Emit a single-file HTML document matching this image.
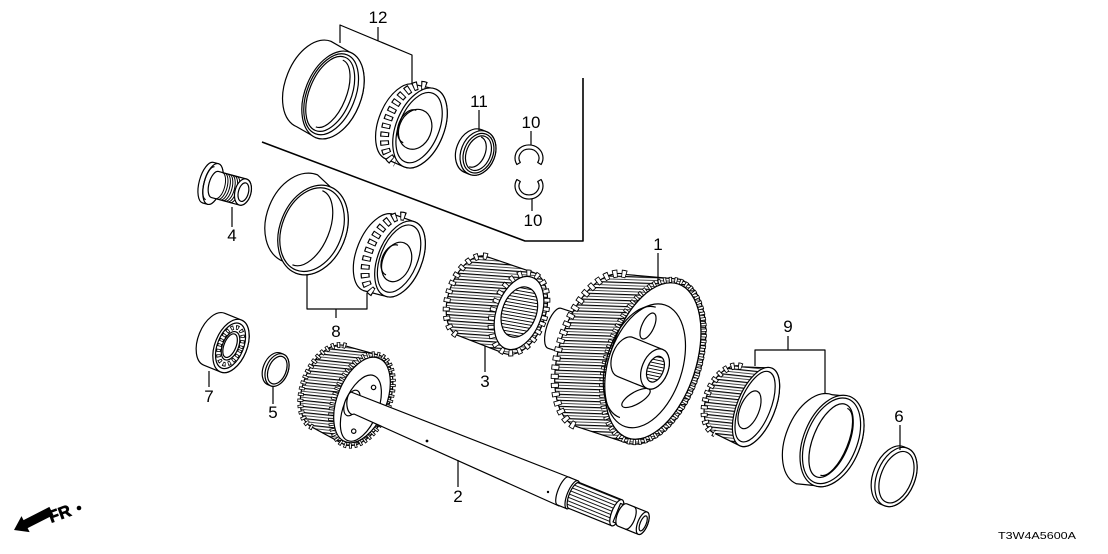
<!DOCTYPE html>
<html><head><meta charset="utf-8"><title>Diagram</title>
<style>
html,body{margin:0;padding:0;background:#fff;width:1108px;height:554px;overflow:hidden}
svg{display:block}
text{font-family:"Liberation Sans",Arial,sans-serif}
</style></head><body>
<svg width="1108" height="554" viewBox="0 0 1108 554" xmlns="http://www.w3.org/2000/svg">
<defs>
<pattern id="st" patternUnits="userSpaceOnUse" width="12" height="6" patternTransform="rotate(-16)">
<rect width="12" height="6" fill="#fff"/><rect width="12" height="1.2" fill="#000"/><rect y="3.2" width="12" height="0.7" fill="#000"/>
</pattern>
<pattern id="sp" patternUnits="userSpaceOnUse" width="6" height="3.2" patternTransform="rotate(-10)">
<rect width="6" height="3.2" fill="#fff"/><rect width="6" height="0.9" fill="#000"/>
</pattern>
<pattern id="ax" patternUnits="userSpaceOnUse" width="6" height="3.4">
<rect width="6" height="3.4" fill="#fff"/><rect width="6" height="0.9" fill="#000"/>
</pattern>
</defs>
<g fill="#fff" stroke="#000" stroke-width="1.2" stroke-linejoin="round">

<!-- separator -->
<polyline points="262,142 525,241 583,241 583,78" fill="none" stroke-width="1.6"/>

<!-- cup 12 -->
<g transform="translate(333,95) rotate(22)">
<path d="M0,-46 L-22,-49 A28,46 0 0,0 -22,43 L0,46 A28,46 0 0,0 0,-46Z"/>
<ellipse rx="28" ry="46"/>
<ellipse cx="-2" rx="24" ry="42.5" fill="none"/>
<ellipse cx="-3" rx="21" ry="39.5" fill="none"/>
<path d="M-4,-36 A17,36 0 0,1 -4,36" fill="none"/>
</g>

<!-- cone 12 -->
<g transform="translate(420,128) rotate(22)">
<path d="M0,-42 L-20,-38.5 A22,40 0 0,0 -20,41.5 L0,42 A24,42 0 0,0 0,-42Z"/>
<path d="M-10,-41 A23,41 0 0,0 -10,41" fill="none" stroke-width="9" stroke-dasharray="5 3.5"/>
<path d="M-10,-41 A23,41 0 0,0 -10,41" fill="none" stroke="#fff" stroke-width="6.6" stroke-dasharray="3 5.5" stroke-dashoffset="-1"/>
<ellipse rx="24" ry="42"/>
<ellipse cx="-1" rx="20" ry="37" fill="none"/>
<ellipse cx="-4" cy="3" rx="16" ry="20.5"/>
<path d="M-10,-15 A11,17 0 0,0 -10,20" fill="none"/>
</g>

<!-- ring 11 -->
<g transform="translate(478,153) rotate(22)">
<path d="M0,-23 L-5,-23 A17,23 0 0,0 -5,23 L0,23 A17,23 0 0,0 0,-23Z"/>
<ellipse rx="17" ry="23"/>
<ellipse cx="0.5" rx="14.5" ry="20.5" fill="none"/>
<ellipse cx="0.5" rx="12" ry="18"/>
<path d="M-3,-16 A10,16 0 0,1 -3,16" fill="none"/>
</g>

<!-- clips 10 -->
<path d="M516.9,164.5 A14,13 0 1,1 541.1,164.5 L537.7,162.5 A10,9 0 1,0 520.3,162.5 Z"/>
<path d="M516.9,179.5 A14,13 0 1,0 541.1,179.5 L537.7,181.5 A10,9 0 1,1 520.3,181.5 Z"/>

<!-- plug 4 -->
<g transform="translate(213,184) rotate(15)">
<path d="M0,-21 L-5,-21 A9,21 0 0,0 -5,21 L0,21 A9,21 0 0,0 0,-21Z"/>
<ellipse rx="9" ry="21"/>
<path d="M-3,-17 A6,17 0 0,0 -3,17" fill="none"/>
<path d="M2,-13.5 L31,-13.5 A8,13.5 0 0,1 31,13.5 L2,13.5 A6,13.5 0 0,1 2,-13.5Z"/>
<g fill="none" stroke-width="1">
<path d="M6,-13.5 A6,13.5 0 0,1 6,13.5"/>
<path d="M8.5,-13.5 A6,13.5 0 0,1 8.5,13.5"/>
<path d="M11,-13.5 A6,13.5 0 0,1 11,13.5"/>
<path d="M13.5,-13.5 A6,13.5 0 0,1 13.5,13.5"/>
<path d="M16,-13.5 A6,13.5 0 0,1 16,13.5"/>
<path d="M18.5,-13.5 A6,13.5 0 0,1 18.5,13.5"/>
<path d="M21,-13.5 A6,13.5 0 0,1 21,13.5"/>
</g>
<ellipse cx="31" rx="8" ry="13.5"/>
<ellipse cx="31.5" rx="5" ry="9.5"/>
</g>

<!-- cup 8 -->
<g transform="translate(313,230) rotate(22)">
<path d="M0,-46.5 L-16.5,-52.8 A33,46.5 0 0,0 -16.5,40.2 L0,46.5 A33,46.5 0 0,0 0,-46.5Z"/>
<ellipse rx="33" ry="46.5"/>
<ellipse cx="-1" rx="30" ry="43.5" fill="none"/>
<path d="M-6,-40 A22,40 0 0,1 -6,40" fill="none"/>
</g>

<!-- cone 8 -->
<g transform="translate(400,259) rotate(22)">
<path d="M0,-40 L-22,-39 A22,41 0 0,0 -22,43 L0,40 A22,40 0 0,0 0,-40Z"/>
<path d="M-11,-41 A21,41 0 0,0 -11,41" fill="none" stroke-width="9" stroke-dasharray="5 3.5"/>
<path d="M-11,-41 A21,41 0 0,0 -11,41" fill="none" stroke="#fff" stroke-width="6.6" stroke-dasharray="3 5.5" stroke-dashoffset="-1"/>
<ellipse rx="22" ry="40"/>
<ellipse cx="-1" rx="18.5" ry="35.5" fill="none"/>
<ellipse cx="-2" cy="4" rx="14" ry="20.5"/>
<path d="M-7,-12 A10,16 0 0,0 -7,20" fill="none"/>
</g>

<!-- bearing 7 -->
<g transform="translate(231,346) rotate(22)">
<path d="M0,-28 L-18,-28 A16,28 0 0,0 -18,28 L0,28 A16,28 0 0,0 0,-28Z"/>
<ellipse rx="16" ry="28"/>
<ellipse cx="-0.5" rx="13" ry="24" fill="none"/>
<ellipse cx="-0.5" rx="10.5" ry="19.5" fill="none" stroke-width="4.5" stroke-dasharray="3 2.4"/>
<ellipse cx="-0.5" rx="10.5" ry="19.5" fill="none" stroke="#fff" stroke-width="2.7" stroke-dasharray="1.4 4" stroke-dashoffset="-0.8"/>
<ellipse cx="-0.5" rx="8" ry="15"/>
<ellipse cx="-1" rx="6" ry="12.5" fill="none"/>
</g>

<!-- ring 5 -->
<g transform="translate(277,370) rotate(22)">
<path d="M0,-17 L-3,-17 A11,17 0 0,0 -3,17 L0,17 A11,17 0 0,0 0,-17Z"/>
<ellipse rx="11" ry="17"/>
<ellipse cx="0.3" rx="8.8" ry="14.5"/>
</g>

<!-- gear on shaft 2 -->
<g transform="translate(362,400) rotate(22)">
<path d="M0,-48 L-35,-44 A26,44 0 0,0 -35,44 L0,48 A27,48 0 0,0 0,-48Z" fill="url(#st)"/>
<path d="M-35,-44 A26,44 0 0,0 -35,44" fill="none" stroke-width="6" stroke-dasharray="3.2 2.8"/>
<path d="M-35,-44 A26,44 0 0,0 -35,44" fill="none" stroke="#fff" stroke-width="4.4" stroke-dasharray="1.6 4.4" stroke-dashoffset="-0.8"/>
<ellipse rx="27" ry="48" fill="none" stroke-width="6" stroke-dasharray="2.8 2.4"/>
<ellipse rx="27" ry="48" fill="none" stroke="#fff" stroke-width="4.4" stroke-dasharray="1.2 4" stroke-dashoffset="-0.8"/>
<ellipse rx="24.5" ry="45"/>
<ellipse cx="2" cy="8" rx="17" ry="35"/>
<circle cx="6" cy="-16" r="2.2"/>
<circle cx="4" cy="32" r="2.2"/>
</g>

<!-- shaft 2 -->
<ellipse cx="352" cy="403" rx="7" ry="13.5" transform="rotate(22 352 403)"/>
<path d="M351,392 L571,478 L559,506 L354,414 A5.5,11 0 0,1 351,392Z"/>
<circle cx="427" cy="441" r="1.4" fill="#000" stroke="none"/>
<circle cx="548" cy="492" r="1.2" fill="#000" stroke="none"/>
<g transform="translate(563,491) rotate(22)">
<path d="M0,-15 L10,-15 A5,15 0 0,1 10,15 L0,15 A5,15 0 0,1 0,-15Z"/>
<ellipse cx="10" rx="5" ry="15"/>
<path d="M12,-14 L58,-14 A5,14 0 0,1 58,14 L12,14 A5,14 0 0,1 12,-14Z" fill="url(#ax)"/>
<ellipse cx="58" rx="5" ry="14"/>
<path d="M58,-10 L64,-10 L64,10 L58,10Z"/>
<path d="M64,-12 L86,-12 A5,12 0 0,1 86,12 L64,12 A5,12 0 0,1 64,-12Z"/>
<path d="M72,-12 A5,12 0 0,1 72,12" fill="none"/>
<ellipse cx="86" rx="5" ry="12"/>
<ellipse cx="86.5" rx="3" ry="8"/>
</g>

<!-- gear 1 -->
<g transform="translate(566,332) rotate(18)">
<path d="M0,-21 L-12,-21 A8,21 0 0,0 -12,21 L0,21Z"/>
</g>
<g transform="translate(653,361) rotate(18)">
<path d="M0,-86 L-52,-74 A42,80 0 0,0 -52,86 L0,86 A48,86 0 0,0 0,-86Z" fill="url(#st)"/>
<path d="M-52,-74 A42,80 0 0,0 -52,86" fill="none" stroke-width="8" stroke-dasharray="5 4"/>
<path d="M-52,-74 A42,80 0 0,0 -52,86" fill="none" stroke="#fff" stroke-width="6.2" stroke-dasharray="3.4 5.6" stroke-dashoffset="-0.8"/>
<ellipse rx="46" ry="84" fill="none" stroke-width="6" stroke-dasharray="3.2 2.4"/>
<ellipse rx="46" ry="84" fill="none" stroke="#fff" stroke-width="4.4" stroke-dasharray="1.6 4" stroke-dashoffset="-0.8"/>
<ellipse rx="43" ry="81"/>
<ellipse cx="-6" cy="7" rx="37" ry="64"/>
<path d="M-14,-52 A31,58 0 0,0 -14,64" fill="none"/>
</g>
<ellipse cx="648" cy="326" rx="6" ry="14" transform="rotate(25 648 326)"/>
<ellipse cx="636" cy="398" rx="16" ry="6" transform="rotate(-30 636 398)"/>
<g transform="translate(655,369) rotate(22)">
<path d="M0,-21 L-32,-21 A13,21 0 0,0 -32,21 L0,21 A13,21 0 0,0 0,-21Z"/>
<ellipse rx="13" ry="21"/>
<ellipse cx="0.5" rx="8" ry="13.5" fill="url(#sp)"/>
</g>

<!-- gear 3 -->
<g transform="translate(519,313) rotate(20)">
<path d="M0,-43 L-49,-42 A24,42 0 0,0 -49,42 L0,43 A26,43 0 0,0 0,-43Z" fill="url(#st)"/>
<path d="M-49,-42 A24,42 0 0,0 -49,42" fill="none" stroke-width="7" stroke-dasharray="4.5 4.5"/>
<path d="M-49,-42 A24,42 0 0,0 -49,42" fill="none" stroke="#fff" stroke-width="5.2" stroke-dasharray="2.9 6.1" stroke-dashoffset="-0.8"/>
<ellipse rx="25.5" ry="41.5" fill="none" stroke-width="7" stroke-dasharray="4.5 4.5"/>
<ellipse rx="25.5" ry="41.5" fill="none" stroke="#fff" stroke-width="5.2" stroke-dasharray="2.9 6.1" stroke-dashoffset="-0.8"/>
<ellipse rx="22.5" ry="38"/>
<ellipse cy="-1" rx="17" ry="26" fill="url(#sp)"/>
</g>

<!-- cone 9 -->
<g transform="translate(756,407) rotate(22)">
<path d="M0,-42 L-28,-32 A22,36 0 0,0 -28,40 L0,42 A19,42 0 0,0 0,-42Z" fill="url(#st)"/>
<path d="M-28,-32 A22,36 0 0,0 -28,40" fill="none" stroke-width="7" stroke-dasharray="4 3.5"/>
<path d="M-28,-32 A22,36 0 0,0 -28,40" fill="none" stroke="#fff" stroke-width="5.2" stroke-dasharray="2.4 5.1" stroke-dashoffset="-0.8"/>
<ellipse rx="19" ry="42"/>
<ellipse cx="-1" rx="15.5" ry="37.5" fill="none"/>
<ellipse cx="-5" cy="5" rx="9.5" ry="20"/>
</g>

<!-- cup 9 -->
<g transform="translate(832,441) rotate(22)">
<path d="M0,-48 L-17,-43 A28.5,48 0 0,0 -17,53 L0,48 A28.5,48 0 0,0 0,-48Z"/>
<ellipse rx="28.5" ry="48"/>
<ellipse cx="-0.5" rx="25.5" ry="45" fill="none"/>
<ellipse cx="-1" rx="18" ry="39" fill="none"/>
<path d="M2,-36 A14,36 0 0,1 2,36" fill="none"/>
</g>

<!-- ring 6 -->
<g transform="translate(896,477) rotate(22)">
<path d="M0,-31 L-4,-31 A19,31 0 0,0 -4,31 L0,31 A19,31 0 0,0 0,-31Z"/>
<ellipse rx="19" ry="31"/>
<ellipse cx="0.5" rx="15.5" ry="27"/>
</g>

<!-- leaders -->
<g fill="none">
<polyline points="340,43 340,25 412,55 412,84"/>
<line x1="378" y1="27" x2="378" y2="41"/>
<line x1="479" y1="110" x2="479" y2="131"/>
<line x1="531" y1="131" x2="531" y2="145"/>
<line x1="532" y1="199" x2="532" y2="211"/>
<line x1="232" y1="207" x2="232" y2="227"/>
<polyline points="307,275 307,309 367,309 367,293"/>
<line x1="336" y1="309" x2="336" y2="318"/>
<line x1="209" y1="371" x2="209" y2="387"/>
<line x1="273" y1="386" x2="273" y2="404"/>
<line x1="485" y1="346" x2="485" y2="372"/>
<line x1="458" y1="460" x2="458" y2="487"/>
<line x1="658" y1="253" x2="658" y2="283"/>
<polyline points="755,366 755,350 825,350 825,394"/>
<line x1="788" y1="336" x2="788" y2="350"/>
<line x1="900" y1="425" x2="900" y2="450"/>
</g>
</g>

<!-- labels -->
<g font-size="17" text-anchor="middle" fill="#000">
<text x="378" y="23">12</text>
<text x="479" y="107">11</text>
<text x="531" y="128">10</text>
<text x="533" y="226">10</text>
<text x="232" y="241">4</text>
<text x="336" y="337">8</text>
<text x="209" y="402">7</text>
<text x="273" y="418">5</text>
<text x="485" y="387">3</text>
<text x="458" y="502">2</text>
<text x="658" y="250">1</text>
<text x="788" y="332">9</text>
<text x="899" y="422">6</text>
</g>

<!-- FR arrow -->
<g transform="translate(14,530) rotate(-27)">
<polygon points="0,0 13,-9 13,-4.5 42,-4.5 42,4.5 13,4.5 13,9" fill="#000"/>
</g>
<text x="51" y="523" font-size="17" font-weight="bold" fill="#000" stroke="#000" stroke-width="0.6" transform="rotate(-20 51 523)">FR</text>
<circle cx="79" cy="508" r="2.3" fill="#000"/>

<text x="998" y="539" font-size="10.5" fill="#000" textLength="78" lengthAdjust="spacingAndGlyphs">T3W4A5600A</text>
</svg>
</body></html>
